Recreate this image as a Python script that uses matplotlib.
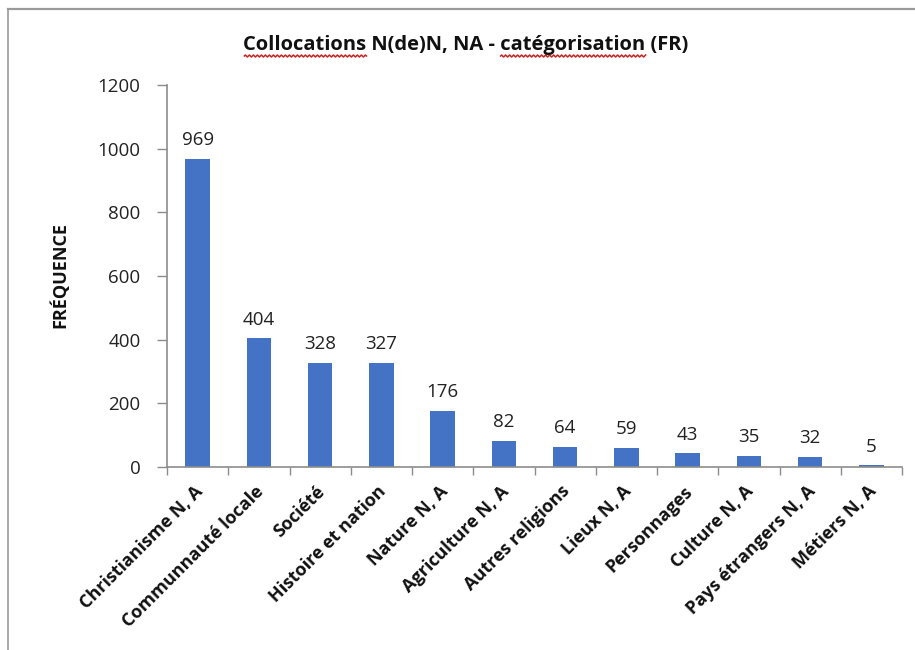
import numpy as np
import matplotlib
matplotlib.use("Agg")
import matplotlib.pyplot as plt
from matplotlib.lines import Line2D

categories = [
    "Christianisme N, A", "Communnauté locale", "Société", "Histoire et nation",
    "Nature N, A", "Agriculture N, A", "Autres religions", "Lieux N, A",
    "Personnages", "Culture N, A", "Pays étrangers N, A", "Métiers N, A",
]
values = [969, 404, 328, 327, 176, 82, 64, 59, 43, 35, 32, 5]
yticks = [0, 200, 400, 600, 800, 1000, 1200]

title = "Collocations N(de)N, NA - catégorisation (FR)"
ylabel = "FRÉQUENCE"

plt.rcParams["font.family"] = ["Open Sans", "DejaVu Sans"]

W, H = 915, 650
fig = plt.figure(figsize=(W / 100, H / 100), dpi=100)
fig.patch.set_facecolor("white")

# outer chart frame (top and left edges)
fig.add_artist(Line2D([8 / W, 1.0], [1 - 9 / H, 1 - 9 / H], color="#9a9a9a", lw=1.6,
                      transform=fig.transFigure))
fig.add_artist(Line2D([8 / W, 8 / W], [0.0, 1 - 9 / H], color="#9a9a9a", lw=1.2,
                      transform=fig.transFigure))

ax = fig.add_axes([167 / W, 1 - 467 / H, (902 - 167) / W, (467 - 85) / H])
x = np.arange(len(categories))
bars = ax.bar(x, values, width=0.4, color="#4472C4", zorder=2)

ax.set_xlim(-0.5, len(categories) - 0.5)
ax.set_ylim(0, 1200)
ax.set_yticks(yticks)
ax.set_yticklabels([str(v) for v in yticks], fontsize=13.5, color="#222222")

# category ticks sit between bars
ax.set_xticks(np.arange(-0.5, len(categories) + 0.5, 1.0))
ax.set_xticklabels([])
ax.tick_params(axis="x", length=6, width=1, color="#8c8c8c", direction="out")
ax.tick_params(axis="y", length=7, width=1, color="#8c8c8c", direction="out", pad=12)

for s in ["top", "right"]:
    ax.spines[s].set_visible(False)
for s in ["left", "bottom"]:
    ax.spines[s].set_color("#8c8c8c")
    ax.spines[s].set_linewidth(1.2)

# rotated category labels
for xi, lab in zip(x, categories):
    ax.annotate(lab, xy=(xi, 0), xycoords="data", xytext=(-3, -11),
                textcoords="offset points", rotation=45, rotation_mode="anchor",
                ha="right", va="top", fontsize=13, fontweight="bold",
                color="#111111")

# value labels above each bar
for xi, v in zip(x, values):
    ax.annotate(str(v), xy=(xi, v), xytext=(0, 7), textcoords="offset points",
                ha="center", va="bottom", fontsize=13.5, color="#222222")

fig.text(60 / W, 1 - 275 / H, ylabel, rotation=90, ha="center", va="center",
         fontsize=13, fontweight="bold", color="#111111")

# title with wavy red underlines under two words
TFS = 14.5
tx, ty = 466 / W, 1 - 45 / H
ttl = fig.text(tx, ty, title, ha="center", va="center", fontsize=TFS,
               fontweight="bold", color="#111111")
fig.canvas.draw()
r = fig.canvas.get_renderer()
bb = ttl.get_window_extent(r)


def width_of(s):
    t = fig.text(0, 0, s, fontsize=TFS, fontweight="bold")
    w = t.get_window_extent(r).width
    t.remove()
    return w


def wavy(x0, x1, y):
    xs = np.arange(x0, x1 + 0.1, 1.0)
    ys = y + 1.0 * np.sin((xs - x0) * np.pi / 2.0)
    fig.add_artist(Line2D(xs / W, ys / H, color="#cc2222", lw=1.1,
                          transform=fig.transFigure))


yline = bb.y0 - 1
w1 = width_of("Collocations")
wavy(bb.x0 + 1, bb.x0 + w1, yline)
wa = width_of("Collocations N(de)N, NA - ")
wb = width_of("Collocations N(de)N, NA - catégorisation")
wavy(bb.x0 + wa, bb.x0 + wb, yline)

fig.savefig("out.png", dpi=100, facecolor="white")
